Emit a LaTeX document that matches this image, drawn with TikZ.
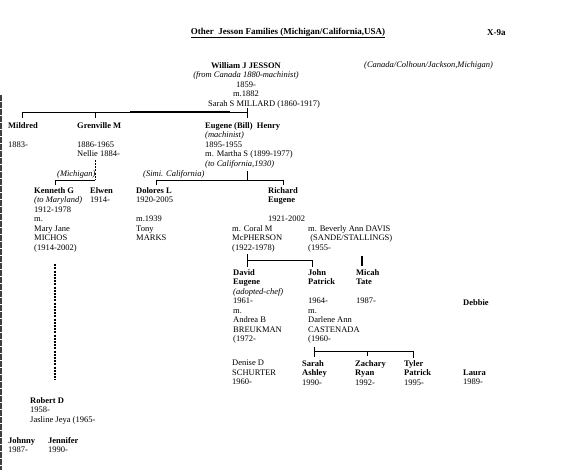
\documentclass[tikz,border=0pt]{standalone}
\usepackage{fontspec}
\setmainfont{Liberation Serif}
\usetikzlibrary{positioning}
\tikzset{
    person/.style={anchor=north west, align=left, inner sep=0pt, font=\fontsize{8.5}{9.5}\selectfont},
    tag/.style={anchor=base west, inner sep=0pt, font=\fontsize{8.5}{9.5}\selectfont\itshape},
    heading/.style={inner sep=0pt, font=\fontsize{9}{10}\selectfont\bfseries},
    tree/.style={draw=black, line width=0.8pt},
    dashtree/.style={tree, dash pattern=on 2pt off 1.2pt}
}

\begin{document}
\begin{tikzpicture}[x=1pt, y=-1pt]
\useasboundingbox (0,0) rectangle (567,470);
\draw[black!75, line width=1.5pt, dash pattern=on 6pt off 1pt] (0.75,95) -- (0.75,470);

% Header
\node[heading] (title) at (288,33) {\underline{Other\ \ Jesson Families (Michigan/California,USA)}};
\node[heading, anchor=west] (sheetno) at (487,33) {X-9a};

% Parents
\node[person, align=center, anchor=north] (william) at (246,62) {\textbf{William J JESSON}\\\textit{(from Canada 1880-machinist)}\\1859-\\m.1882};
\node[person] (sarah) at (208,100) {Sarah S MILLARD (1860-1917)};
\node[tag] (origin) at (364,68) {(Canada/Colhoun/Jackson,Michigan)};

% Children
\node[person] (mildred) at (8,122) {\textbf{Mildred}\\[9.5pt]1883-};
\node[person] (grenville) at (77,122) {\textbf{Grenville M}\\[9.5pt]1886-1965\\Nellie 1884-};
\node[person] (eugene) at (205,122) {\textbf{Eugene (Bill) \ Henry}\\\textit{(machinist)}\\1895-1955\\m. Martha S (1899-1977)\\\textit{(to California,1930)}};

\coordinate (m1) at (22,112);
\coordinate (g1) at (95,112);
\coordinate (e1) at (247,112);
\draw[tree] (sarah.south -| e1) -- (e1);
\draw[tree] (m1) -- (e1);
\draw[tree, line width=1.4pt] (130,112) -- (230,112);
\draw[tree, shorten >=4pt] (e1) -- (e1 |- eugene.north);
\draw[tree, shorten >=4pt] (m1) -- (m1 |- mildred.north);
\draw[tree, shorten >=4pt] (g1) -- (g1 |- grenville.north);

% Grandchildren
\node[person] (kenneth) at (34,187) {\textbf{Kenneth G}\\\textit{(to Maryland)}\\1912-1978\\m.\\Mary Jane\\MICHOS\\(1914-2002)};
\node[person] (elwen) at (90,187) {\textbf{Elwen}\\1914-};
\node[person] (dolores) at (136,187) {\textbf{Dolores L}\\1920-2005\\[9.5pt]m.1939\\Tony\\MARKS};
\node[person] (richard) at (268,187) {\textbf{Richard}\\\textbf{Eugene}\\[9.5pt]1921-2002};
\node[person] (coral) at (232,225) {m. Coral M\\McPHERSON\\(1922-1978)};
\node[person] (beverly) at (308,225) {m. Beverly Ann DAVIS\\\ (SANDE/STALLINGS)\\(1955-};

\coordinate (gk) at (55,180);
\coordinate (gg) at (95,180);
\draw[dashtree, shorten <=3pt] (grenville.south -| gg) -- (gg);
\draw[tree] (gg) -- (gk);
\draw[tree, shorten >=2pt] (gk) -- (gk |- kenneth.north);
\node[tag] (michigan) at (57,177) {(Michigan)};

\coordinate (ed) at (156,180);
\coordinate (e2) at (247,180);
\coordinate (er) at (283,180);
\draw[tree, shorten <=3pt] (eugene.south -| e2) -- (e2);
\draw[tree] (ed) -- (er);
\draw[tree, shorten >=2pt] (ed) -- (ed |- dolores.north);
\draw[tree, shorten >=2pt] (er) -- (er |- richard.north);
\node[tag] (simi) at (143,177) {(Simi. California)};

% Great-grandchildren
\node[person] (david) at (233,269) {\textbf{David}\\\textbf{Eugene}\\\textit{(adopted-chef)}\\1961-\\m.\\Andrea B\\BREUKMAN\\(1972-};
\node[person] (john) at (308,269) {\textbf{John}\\\textbf{Patrick}\\[9.5pt]1964-\\m.\\Darlene Ann\\CASTENADA\\(1960-};
\node[person] (micah) at (356,269) {\textbf{Micah}\\\textbf{Tate}\\[9.5pt]1987-};
\node[person] (debbie) at (463,299) {\textbf{Debbie}};

\coordinate (cv) at (247,260);
\coordinate (cj) at (312,260);
\coordinate (bm) at (362,256);
\draw[tree, shorten <=2pt] (coral.south -| cv) -- (cv) -- (cj);
\draw[tree, shorten >=2pt] (cv) -- (cv |- david.north);
\draw[tree, shorten >=2pt] (cj) -- (cj |- john.north);
\draw[tree, line width=1.6pt, shorten >=3pt] (bm) -- (bm |- micah.north);
\draw[dashtree, line width=1.4pt, shorten <=12pt, shorten >=17pt] (kenneth.south -| gk) -- (gk |- 0,397);

% Next generation
\node[person] (denise) at (232,360) {Denise D\\SCHURTER\\1960-};
\node[person] (ashley) at (302,360) {\textbf{Sarah}\\\textbf{Ashley}\\1990-};
\node[person] (zachary) at (355,360) {\textbf{Zachary}\\\textbf{Ryan}\\1992-};
\node[person] (tyler) at (404,360) {\textbf{Tyler}\\\textbf{Patrick}\\1995-};
\node[person] (laura) at (463,369.5) {\textbf{Laura}\\1989-};

\coordinate (jv) at (314,351);
\coordinate (jz) at (367,351);
\coordinate (jt) at (413,351);
\draw[tree, shorten <=3pt, shorten >=3pt] (john.south -| jv) -- (jv |- ashley.north);
\draw[tree] (jv) -- (jt);
\draw[tree, shorten >=4pt] (jz) -- (jz |- zachary.north);
\draw[tree, shorten >=2pt] (jt) -- (jt |- tyler.north);

% Maryland branch
\node[person] (robert) at (30,397) {\textbf{Robert D}\\1958-\\Jasline Jeya (1965-};
\node[person] (johnny) at (8,437) {\textbf{Johnny}\\1987-};
\node[person, right=40pt of johnny.north west, anchor=north west] (jennifer) {\textbf{Jennifer}\\1990-};

\end{tikzpicture}
\end{document}
